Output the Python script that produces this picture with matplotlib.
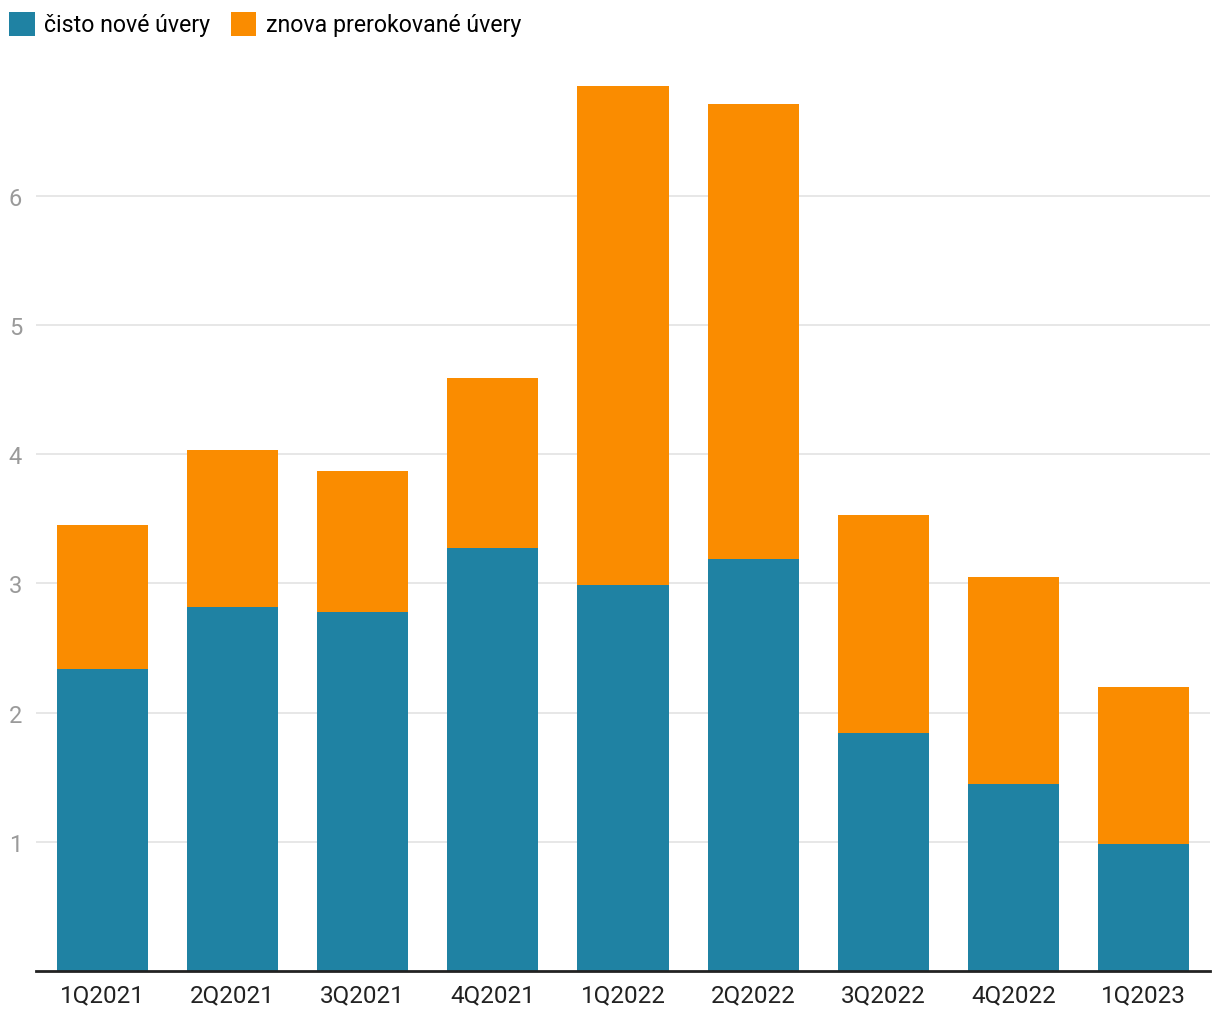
import numpy as np
import matplotlib
matplotlib.use("Agg")
import matplotlib.pyplot as plt

plt.rcParams["font.family"] = ["Roboto", "DejaVu Sans"]

quarters = ["1Q2021", "2Q2021", "3Q2021", "4Q2021", "1Q2022",
            "2Q2022", "3Q2022", "4Q2022", "1Q2023"]
new_loans = [2.34, 2.82, 2.78, 3.27, 2.99, 3.19, 1.84, 1.45, 0.98]
totals = [3.45, 4.03, 3.87, 4.59, 6.85, 6.71, 3.53, 3.05, 2.20]
refinanced = [round(t - n, 2) for t, n in zip(totals, new_loans)]

COLOR_NEW = "#1F82A3"
COLOR_REF = "#FA8C00"

fig = plt.figure(figsize=(12.2, 10.2), dpi=100)
ax = fig.add_axes([0.0295, 0.047, 0.9623, 0.887])

x = np.arange(len(quarters))
ax.bar(x, new_loans, 0.7, color=COLOR_NEW, label="čisto nové úvery", zorder=2)
ax.bar(x, refinanced, 0.7, bottom=new_loans, color=COLOR_REF,
       label="znova prerokované úvery", zorder=2)

ax.set_xlim(-0.51, len(quarters) - 0.49)
ax.set_ylim(0, 7.0)
ax.set_yticks([1, 2, 3, 4, 5, 6])
ax.set_xticks(x)
ax.set_xticklabels(quarters)
ax.grid(axis="y", color="#e3e3e3", lw=1.2, zorder=0)
for s in ["top", "right", "left"]:
    ax.spines[s].set_visible(False)
ax.spines["bottom"].set_color("#222222")
ax.spines["bottom"].set_linewidth(2)
ax.spines["bottom"].set_zorder(3)
ax.tick_params(axis="y", length=0, labelsize=17, labelcolor="#9a9a9a", pad=10)
ax.tick_params(axis="x", length=0, labelsize=17.5, labelcolor="#222222", pad=9)

fig.legend(loc="upper left", bbox_to_anchor=(-0.003, 1.0), ncol=2, frameon=False,
           fontsize=16.7, handlelength=1.1, handleheight=1.2,
           handletextpad=0.4, columnspacing=0.9, borderaxespad=0.1,
           borderpad=0.45)

fig.savefig("out.png", dpi=100)
